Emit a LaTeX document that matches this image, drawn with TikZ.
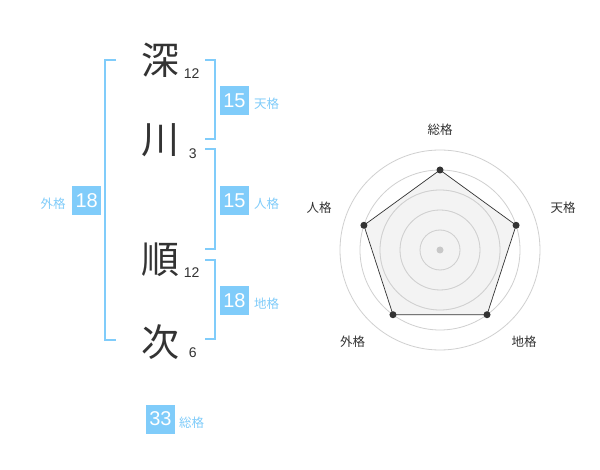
\documentclass[tikz,border=0pt]{standalone}
\usepackage{fontspec}
\setmainfont{Liberation Sans}
\newfontfamily\jp{Noto Sans CJK JP}
\definecolor{boxblue}{RGB}{128,204,250}
\definecolor{ink}{RGB}{51,51,51}
\definecolor{ring}{RGB}{208,208,208}
\definecolor{area}{RGB}{240,240,240}
\definecolor{hub}{RGB}{200,200,200}
\begin{document}
\begin{tikzpicture}[x=1pt,y=-1pt,
  kanji/.style={font=\jp\fontsize{38}{38}\selectfont, text=ink, inner sep=0},
  strokes/.style={font=\fontsize{14}{14}\selectfont, text=ink, inner sep=0},
  numbox/.style={fill=boxblue, text=white, minimum width=29pt, minimum height=29pt, inner sep=0, font=\fontsize{20}{20}\selectfont},
  kaku/.style={text=boxblue, inner sep=0, font=\jp\fontsize{12.5}{12.5}\selectfont},
  bracket/.style={draw=boxblue, line width=1.6pt},
  ringline/.style={draw=ring, line width=0.8pt},
  axislabel/.style={text=ink, inner sep=0, font=\jp\fontsize{12.5}{12.5}\selectfont},
  dot/.style={circle, fill=ink, inner sep=0, minimum size=7pt}
]
\useasboundingbox[fill=white] (0,0) rectangle (600,470);

% brackets
\draw[bracket] (116,60) -- (105,60) -- (105,340) -- (116,340);
\draw[bracket] (205,60) -- (215,60) -- (215,139) -- (205,139);
\draw[bracket] (205,149) -- (215,149) -- (215,249) -- (205,249);
\draw[bracket] (205,260) -- (215,260) -- (215,339) -- (205,339);

% characters
\node[kanji] (k1) at (160,60) {深};
\node[kanji] (k2) at (160,140) {川};
\node[kanji] (k3) at (160,260) {順};
\node[kanji] (k4) at (160,342) {次};
\node[strokes] (s1) at (191.7,73.3) {12};
\node[strokes] (s2) at (192.7,153.3) {3};
\node[strokes] (s3) at (191.7,272.7) {12};
\node[strokes] (s4) at (192.7,352.7) {6};

% boxes
\node[numbox] (ten) at (234.5,100.5) {15};
\node[kaku, anchor=west] (tenl) at (254,104) {天格};
\node[numbox] (jin) at (234.5,200.5) {15};
\node[kaku, anchor=west] (jinl) at (254,204) {人格};
\node[numbox] (chi) at (234.5,300.5) {18};
\node[kaku, anchor=west] (chil) at (254,304) {地格};
\node[numbox] (gai) at (86.7,200.5) {18};
\node[kaku] (gail) at (53,203.5) {外格};
\node[numbox] (sou) at (160.5,419) {33};
\node[kaku] (soul) at (191.7,422.7) {総格};

% radar
\coordinate (c) at (440,250);
\foreach \r in {20,40,60,80,100} \draw[ringline] (c) circle[radius=\r pt];
\coordinate (p1) at (440,170);
\coordinate (p2) at (516.08,225.28);
\coordinate (p3) at (487.02,314.72);
\coordinate (p4) at (392.98,314.72);
\coordinate (p5) at (363.92,225.28);
\fill[area, opacity=0.75] (p1) -- (p2) -- (p3) -- (p4) -- (p5) -- cycle;
\foreach \r in {20,40,60} \draw[ringline] (c) circle[radius=\r pt];
\draw[ink, line width=0.7pt] (p1) -- (p2) -- (p3) -- (p4) -- (p5) -- cycle;
\foreach \p in {p1,p2,p3,p4,p5} \node[dot] at (\p) {};
\node[circle, fill=hub, inner sep=0, minimum size=7pt] (hubdot) at (c) {};

\node[axislabel] (a1) at (440,130) {総格};
\node[axislabel] (a2) at (563,208) {天格};
\node[axislabel] (a3) at (524,342) {地格};
\node[axislabel] (a4) at (352.7,341.7) {外格};
\node[axislabel] (a5) at (319,208) {人格};
\end{tikzpicture}
\end{document}
